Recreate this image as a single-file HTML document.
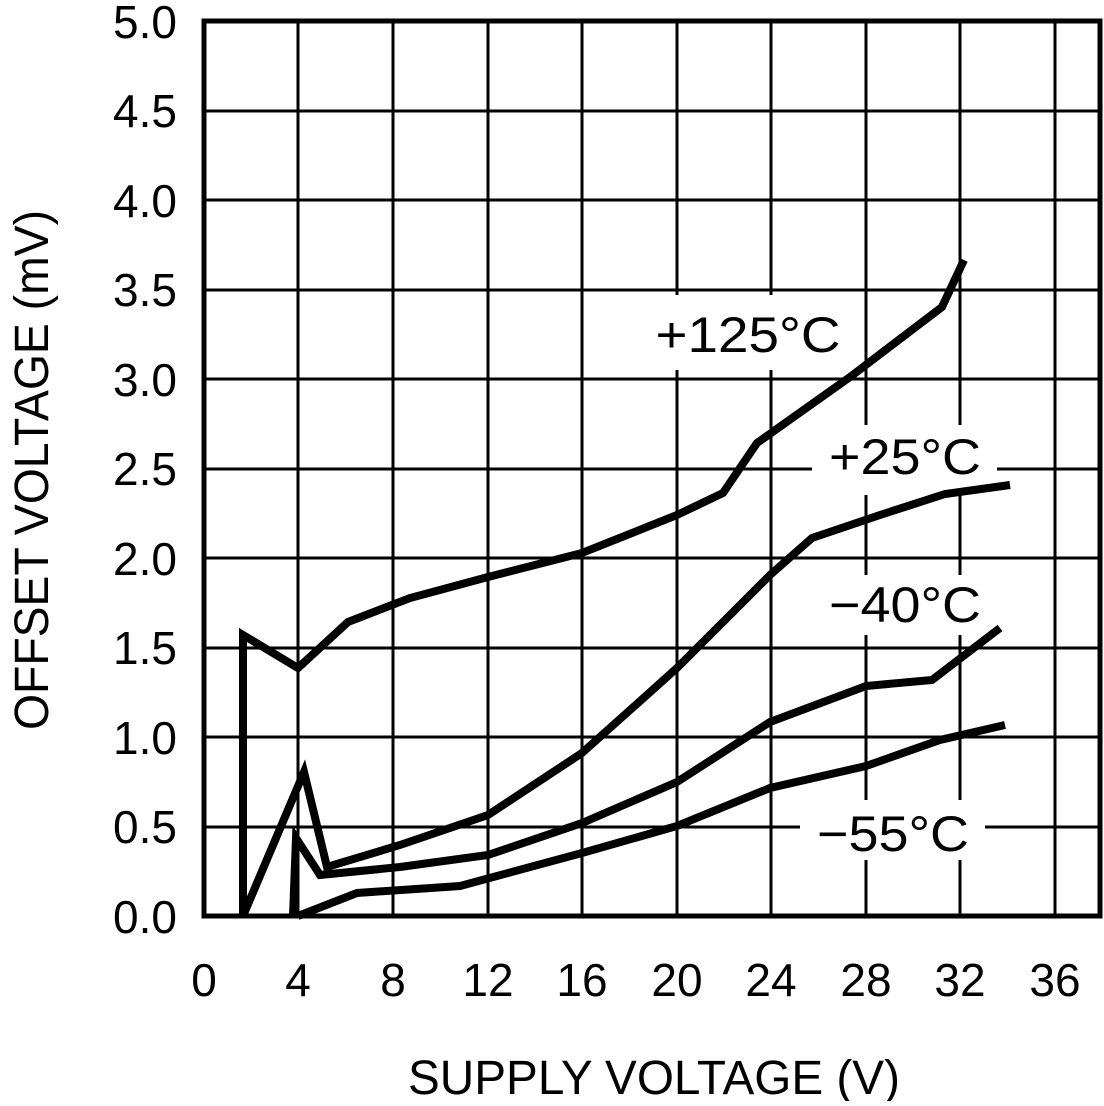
<!DOCTYPE html>
<html><head><style>body{margin:0;background:#fff}</style></head><body>
<svg width="1104" height="1101" xmlns="http://www.w3.org/2000/svg" font-family="Liberation Sans, sans-serif">
<rect width="1104" height="1101" fill="#fff"/>
<g stroke="#000" stroke-width="3">
<line x1="298" y1="21" x2="298" y2="916"/><line x1="393" y1="21" x2="393" y2="916"/><line x1="488" y1="21" x2="488" y2="916"/><line x1="582" y1="21" x2="582" y2="916"/><line x1="677" y1="21" x2="677" y2="916"/><line x1="771" y1="21" x2="771" y2="916"/><line x1="866" y1="21" x2="866" y2="916"/><line x1="960" y1="21" x2="960" y2="916"/><line x1="1055" y1="21" x2="1055" y2="916"/>
<line x1="204" y1="827" x2="1100" y2="827"/><line x1="204" y1="737" x2="1100" y2="737"/><line x1="204" y1="648" x2="1100" y2="648"/><line x1="204" y1="558" x2="1100" y2="558"/><line x1="204" y1="469" x2="1100" y2="469"/><line x1="204" y1="379" x2="1100" y2="379"/><line x1="204" y1="290" x2="1100" y2="290"/><line x1="204" y1="200" x2="1100" y2="200"/><line x1="204" y1="111" x2="1100" y2="111"/>
</g>
<g fill="#fff">
<rect x="645" y="295" width="205" height="75"/>
<rect x="812" y="425" width="185" height="70"/>
<rect x="812" y="575" width="185" height="60"/>
<rect x="800" y="800" width="185" height="60"/>
</g>
<rect x="204" y="21" width="896" height="895" fill="none" stroke="#000" stroke-width="5"/>
<g fill="none" stroke="#000" stroke-width="8" stroke-linejoin="miter">
<polyline points="243,916 243,635 298,668 348,622 410,598 488,577 582,553 677,515 723,493 757,443 850,377 942,307 964,260"/>
<polyline points="243,916 304,772 327,867 400,845 488,815 582,753 677,668 770,575 812,538 880,515 945,494 1010,485"/>
<polyline points="293,916 296,838 320,875 400,867 488,855 582,823 677,782 770,722 866,686 932,680 1000,628"/>
<polyline points="298,916 357,893 460,886 582,853 677,826 770,788 866,766 940,740 1005,725"/>
</g>
<g font-size="50" text-anchor="middle">
<text x="748" y="352" textLength="185" lengthAdjust="spacingAndGlyphs">+125°C</text>
<text x="905" y="474" textLength="152" lengthAdjust="spacingAndGlyphs">+25°C</text>
<text x="905" y="622" textLength="152" lengthAdjust="spacingAndGlyphs">−40°C</text>
<text x="893" y="851" textLength="152" lengthAdjust="spacingAndGlyphs">−55°C</text>
</g>
<g font-size="46" text-anchor="end">
<text x="177" y="933">0.0</text><text x="177" y="843">0.5</text><text x="177" y="754">1.0</text><text x="177" y="664">1.5</text><text x="177" y="575">2.0</text><text x="177" y="485">2.5</text><text x="177" y="396">3.0</text><text x="177" y="306">3.5</text><text x="177" y="217">4.0</text><text x="177" y="127">4.5</text><text x="177" y="38">5.0</text>
</g>
<g font-size="46" text-anchor="middle">
<text x="204" y="996">0</text><text x="298" y="996">4</text><text x="393" y="996">8</text><text x="488" y="996">12</text><text x="582" y="996">16</text><text x="677" y="996">20</text><text x="771" y="996">24</text><text x="866" y="996">28</text><text x="960" y="996">32</text><text x="1055" y="996">36</text>
</g>
<text x="408" y="1094" font-size="48" textLength="492" lengthAdjust="spacingAndGlyphs">SUPPLY VOLTAGE (V)</text>
<text transform="translate(48,470) rotate(-90)" font-size="48" text-anchor="middle" textLength="520" lengthAdjust="spacingAndGlyphs">OFFSET VOLTAGE (mV)</text>
</svg>
</body></html>
